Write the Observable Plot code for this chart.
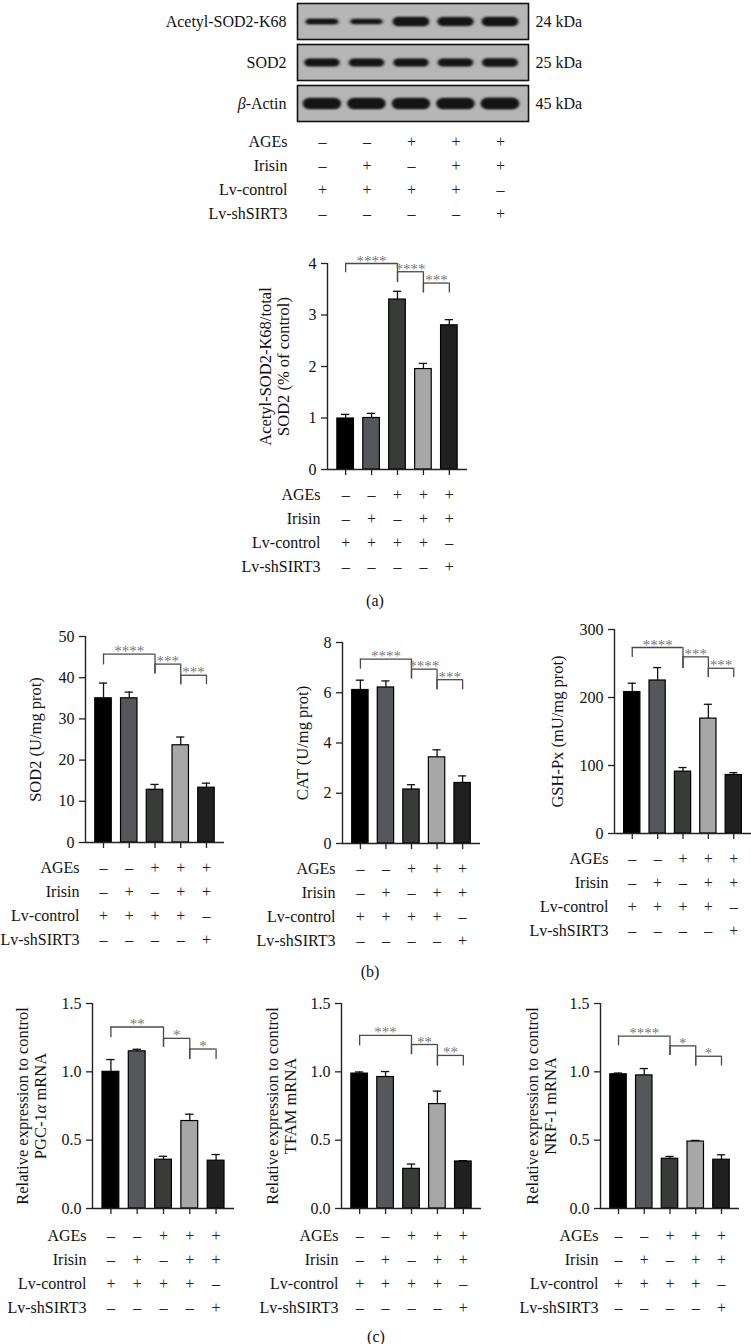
<!DOCTYPE html>
<html><head><meta charset="utf-8">
<script src="https://cdn.jsdelivr.net/npm/d3@7"></script>
<script src="https://cdn.jsdelivr.net/npm/@observablehq/plot@0.6"></script>
<style>
html,body{margin:0;padding:0;background:#fff;}
#page{position:relative;width:751px;height:1344px;overflow:hidden;font-family:"Liberation Serif",serif;color:#111;background:#fff;}
#page svg{position:absolute;overflow:visible;}
.plab{position:absolute;font-size:16px;transform:translate(-50%,-50%);font-family:"Liberation Serif",serif;color:#111;}
</style></head><body><div id="page"></div>
<script>
// ---------- data ----------
const groups = ["Control", "Irisin", "AGEs", "AGEs+Irisin", "AGEs+Irisin+shSIRT3"];
const barColors = ["#000000", "#56575b", "#393b39", "#a7a7a7", "#202020"];

const conditionLabels = ["AGEs", "Irisin", "Lv-control", "Lv-shSIRT3"];
const agesSigns = ["–", "–", "+", "+", "+"];
const irisinSigns = ["–", "+", "–", "+", "+"];
const lvControlSigns = ["+", "+", "+", "+", "–"];
const lvShSirt3Signs = ["–", "–", "–", "–", "+"];

// western blot
const blotRows = ["Acetyl-SOD2-K68", "SOD2", "β-Actin"];
const blotKda = ["24 kDa", "25 kDa", "45 kDa"];
const acetylBand = [5, 4.5, 9, 8.5, 9];
const sod2Band = [7.5, 7.5, 7.5, 7.5, 8];
const actinBand = [11, 11, 11, 11, 11.5];

// (a)
const acetylMean = [0.99, 1.00, 3.30, 1.95, 2.80];
const acetylErr = [0.08, 0.09, 0.16, 0.11, 0.11];
const acetylSig = [[0, 2, 4.0, 3.82, 3.63, "****"], [2, 3, 3.84, 3.63, 3.43, "****"], [3, 4, 3.62, 3.43, 3.43, "***"]];
// (b)
const sod2Mean = [35.0, 35.0, 12.8, 23.6, 13.3];
const sod2Err = [3.7, 1.5, 1.3, 2.0, 1.1];
const sod2Sig = [[0, 2, 45.7, 43.1, 40.9, "****"], [2, 3, 43.3, 40.9, 38.3, "***"], [3, 4, 40.6, 38.3, 38.3, "***"]];
const catMean = [6.11, 6.21, 2.15, 3.43, 2.41];
const catErr = [0.39, 0.26, 0.19, 0.30, 0.28];
const catSig = [[0, 2, 7.34, 6.94, 6.55, "****"], [2, 3, 6.94, 6.55, 6.12, "****"], [3, 4, 6.52, 6.12, 6.12, "***"]];
const gshMean = [208, 225, 91, 169, 86];
const gshErr = [13, 19, 6, 21, 3.5];
const gshSig = [[0, 2, 273.5, 258.8, 242.6, "****"], [2, 3, 259.8, 242.6, 229.4, "***"], [3, 4, 243, 229.4, 229.4, "***"]];
// (c)
const pgcMean = [1.00, 1.15, 0.357, 0.64, 0.35];
const pgcErr = [0.09, 0.015, 0.025, 0.05, 0.045];
const pgcSig = [[0, 2, 1.328, 1.25, 1.18, "**"], [2, 3, 1.245, 1.18, 1.09, "*"], [3, 4, 1.167, 1.09, 1.09, "*"]];
const tfamMean = [0.987, 0.962, 0.29, 0.764, 0.344];
const tfamErr = [0.012, 0.04, 0.035, 0.095, 0.006];
const tfamSig = [[0, 2, 1.267, 1.19, 1.126, "***"], [2, 3, 1.2, 1.126, 1.043, "**"], [3, 4, 1.12, 1.043, 1.043, "**"]];
const nrfMean = [0.982, 0.974, 0.364, 0.49, 0.357];
const nrfErr = [0.009, 0.05, 0.017, 0.008, 0.036];
const nrfSig = [[0, 2, 1.262, 1.19, 1.12, "****"], [2, 3, 1.19, 1.12, 1.043, "*"], [3, 4, 1.114, 1.043, 1.043, "*"]];

// ---------- helpers ----------
const page = document.getElementById("page");
const FONT = "Liberation Serif";
const baseStyle = {fontFamily: FONT, fontSize: "16px", color: "#111", background: "transparent", overflow: "visible"};
const conditionSigns = [agesSigns, irisinSigns, lvControlSigns, lvShSirt3Signs];

function place(el, left, top) {
  el.style.left = left + "px";
  el.style.top = top + "px";
  page.appendChild(el);
}
function italicGreek(svg) {
  const walker = document.createTreeWalker(svg, NodeFilter.SHOW_TEXT);
  const nodes = [];
  while (walker.nextNode()) nodes.push(walker.currentNode);
  for (const n of nodes) {
    const t = n.nodeValue;
    const m = t.match(/[αβ]/);
    if (!m) continue;
    const p = n.parentNode;
    const ts = document.createElementNS("http://www.w3.org/2000/svg", "tspan");
    ts.setAttribute("font-style", "italic");
    ts.textContent = m[0];
    p.insertBefore(document.createTextNode(t.slice(0, m.index)), n);
    p.insertBefore(ts, n);
    p.insertBefore(document.createTextNode(t.slice(m.index + 1)), n);
    p.removeChild(n);
  }
}

function conditionTable({sL, sR, fL, fR, rowTop, labelEnd, xDomain}) {
  const cells = conditionLabels.flatMap((c, k) => conditionSigns[k].map((s, i) => ({c, i, s})));
  const svg = Plot.plot({
    width: sR - sL, height: 97,
    marginLeft: fL - sL, marginRight: sR - fR, marginTop: 12, marginBottom: 12,
    style: baseStyle,
    x: {domain: xDomain, axis: null},
    y: {type: "point", domain: conditionLabels, padding: 0},
    marks: [
      Plot.axisY({tickSize: 0, tickPadding: fL - labelEnd, label: null, fontSize: 16}),
      Plot.text(cells, {x: "i", y: "c", text: "s", fontSize: 16, fill: "#222"})
    ]
  });
  place(svg, sL, rowTop - 12);
}

const xDomain = [-0.7, 4.7];
function barChart(cfg) {
  const {fL, fR, fT, fB, sL, sT, sR, sB} = cfg;
  const rows = groups.map((g, i) => ({g, i, mean: cfg.mean[i], err: cfg.err[i], color: barColors[i]}));
  const br = cfg.sig.map(([from, to, y, yl, yr, label]) => ({from, to, y, yl, yr, label}));
  const legs = br.flatMap(b => [{x: b.from, y1: b.y, y2: b.yl}, {x: b.to, y1: b.y, y2: b.yr}]);
  const svg = Plot.plot({
    width: sR - sL, height: sB - sT,
    marginLeft: fL - sL, marginRight: sR - fR, marginTop: fT - sT, marginBottom: sB - fB,
    style: baseStyle,
    x: {domain: xDomain},
    y: {domain: [0, cfg.ymax]},
    color: {type: "identity"},
    marks: [
      Plot.ruleX(rows, {x: "i", y1: "mean", y2: d => d.mean + d.err, stroke: "#111", strokeWidth: 1.3}),
      Plot.ruleY(rows, {y: d => d.mean + d.err, x1: d => d.i - 0.16, x2: d => d.i + 0.16, stroke: "#111", strokeWidth: 1.3}),
      Plot.rect(rows, {x1: d => d.i - 0.32, x2: d => d.i + 0.32, y1: 0, y2: "mean", fill: "color", stroke: "#000", strokeWidth: 1.2}),
      Plot.ruleY([0], {stroke: "#222", strokeWidth: 1.4}),
      Plot.ruleX([xDomain[0]], {y1: 0, y2: cfg.ymax, stroke: "#222", strokeWidth: 1.4}),
      Plot.axisY({ticks: cfg.ticks, tickFormat: cfg.fmt, tickSize: 6, tickPadding: 5, label: null, stroke: "#222", strokeWidth: 1.3, fontSize: 16}),
      Plot.axisX({ticks: [0, 1, 2, 3, 4], tickFormat: () => "", tickSize: 6, label: null, stroke: "#222", strokeWidth: 1.3}),
      Plot.ruleY(br, {y: "y", x1: "from", x2: "to", stroke: "#4a4a4a", strokeWidth: 1.3}),
      Plot.ruleX(legs, {x: "x", y1: "y1", y2: "y2", stroke: "#4a4a4a", strokeWidth: 1.3}),
      Plot.text(br, {x: d => (d.from + d.to) / 2, y: "y", text: "label", dy: 2, lineAnchor: "bottom", fill: "#777", fontSize: 15}),
      Plot.text([cfg.ylabel], {frameAnchor: "left", dx: cfg.labX - fL, rotate: -90, textAnchor: "middle", lineAnchor: "middle", lineHeight: 1.08, fontSize: 16.5, fill: "#111"})
    ]
  });
  italicGreek(svg);
  place(svg, sL, sT);
  conditionTable({sL, sR, fL, fR, rowTop: cfg.rowTop, labelEnd: cfg.labelEnd, xDomain});
}

// ---------- western blot ----------
(function blot() {
  const bx = [-0.56, 4.63];
  const bands = [acetylBand, sod2Band, actinBand].flatMap((arr, r) => arr.map((t, i) => ({row: blotRows[r], lane: i, t})));
  const info = blotRows.map((row, r) => ({row, kda: blotKda[r]}));
  const sL = 140, sR = 600, fL = 297, fR = 528;
  const svg = Plot.plot({
    width: sR - sL, height: 126,
    marginLeft: fL - sL, marginRight: sR - fR, marginTop: 3, marginBottom: 4,
    style: baseStyle,
    x: {domain: bx, axis: null},
    y: {domain: [-1, 1], axis: null},
    fy: {domain: blotRows, paddingInner: 0.11, paddingOuter: 0, axis: "left", tickSize: 0, tickPadding: 11, label: null},
    marks: [
      Plot.frame({fill: "#b6b6b6", stroke: "#111", strokeWidth: 1.6}),
      Plot.ruleY(bands, {fy: "row", y: () => 0, x1: d => d.lane - 0.34, x2: d => d.lane + 0.34, strokeWidth: d => d.t * 0.75, stroke: "#2a2a2a", strokeLinecap: "round", imageFilter: "blur(1.4px)"}),
      Plot.ruleY(bands, {fy: "row", y: () => 0, x1: d => d.lane - 0.28, x2: d => d.lane + 0.28, strokeWidth: "t", stroke: "#141414", strokeLinecap: "round", imageFilter: "blur(1.1px)"}),
      Plot.text(info, {fy: "row", text: "kda", frameAnchor: "right", dx: 7, textAnchor: "start", fontSize: 16})
    ]
  });
  italicGreek(svg);
  place(svg, sL, 0);
  conditionTable({sL, sR, fL, fR, rowTop: 140, labelEnd: 287, xDomain: bx});
})();

const fInt = d3.format("d");
const f1 = d3.format(".1f");
barChart({fL: 327, fR: 467, fT: 263, fB: 469, sL: 200, sT: 235, sR: 500, sB: 485,
  mean: acetylMean, err: acetylErr, sig: acetylSig, ymax: 4, ticks: [0, 1, 2, 3, 4], fmt: fInt,
  labX: 274, ylabel: "Acetyl-SOD2-K68/total\nSOD2 (% of control)", rowTop: 493, labelEnd: 320});
barChart({fL: 85, fR: 224, fT: 636, fB: 842, sL: 0, sT: 610, sR: 245, sB: 855,
  mean: sod2Mean, err: sod2Err, sig: sod2Sig, ymax: 50, ticks: [0, 10, 20, 30, 40, 50], fmt: fInt,
  labX: 35, ylabel: "SOD2 (U/mg prot)", rowTop: 866, labelEnd: 79});
barChart({fL: 342, fR: 480, fT: 642, fB: 843, sL: 250, sT: 610, sR: 500, sB: 855,
  mean: catMean, err: catErr, sig: catSig, ymax: 8, ticks: [0, 2, 4, 6, 8], fmt: fInt,
  labX: 302, ylabel: "CAT (U/mg prot)", rowTop: 867, labelEnd: 335});
barChart({fL: 614, fR: 751, fT: 629, fB: 833, sL: 500, sT: 600, sR: 751, sB: 845,
  mean: gshMean, err: gshErr, sig: gshSig, ymax: 300, ticks: [0, 100, 200, 300], fmt: fInt,
  labX: 557, ylabel: "GSH-Px (mU/mg prot)", rowTop: 857, labelEnd: 608});
barChart({fL: 92, fR: 234, fT: 1003, fB: 1208, sL: 0, sT: 980, sR: 245, sB: 1220,
  mean: pgcMean, err: pgcErr, sig: pgcSig, ymax: 1.5, ticks: [0, 0.5, 1, 1.5], fmt: f1,
  labX: 30.5, ylabel: "Relative expression to control\nPGC-1α mRNA", rowTop: 1234, labelEnd: 86});
barChart({fL: 341, fR: 481, fT: 1003, fB: 1208, sL: 250, sT: 980, sR: 500, sB: 1220,
  mean: tfamMean, err: tfamErr, sig: tfamSig, ymax: 1.5, ticks: [0, 0.5, 1, 1.5], fmt: f1,
  labX: 280.5, ylabel: "Relative expression to control\nTFAM mRNA", rowTop: 1234, labelEnd: 338});
barChart({fL: 600, fR: 739, fT: 1003, fB: 1208, sL: 500, sT: 980, sR: 751, sB: 1220,
  mean: nrfMean, err: nrfErr, sig: nrfSig, ymax: 1.5, ticks: [0, 0.5, 1, 1.5], fmt: f1,
  labX: 541, ylabel: "Relative expression to control\nNRF-1 mRNA", rowTop: 1234, labelEnd: 598});

// panel labels
[["(a)", 375, 601], ["(b)", 370, 972], ["(c)", 376, 1337]].forEach(([t, x, y]) => {
  const d = document.createElement("div");
  d.className = "plab";
  d.textContent = t;
  d.style.left = x + "px";
  d.style.top = y + "px";
  page.appendChild(d);
});
</script>
</body></html>
